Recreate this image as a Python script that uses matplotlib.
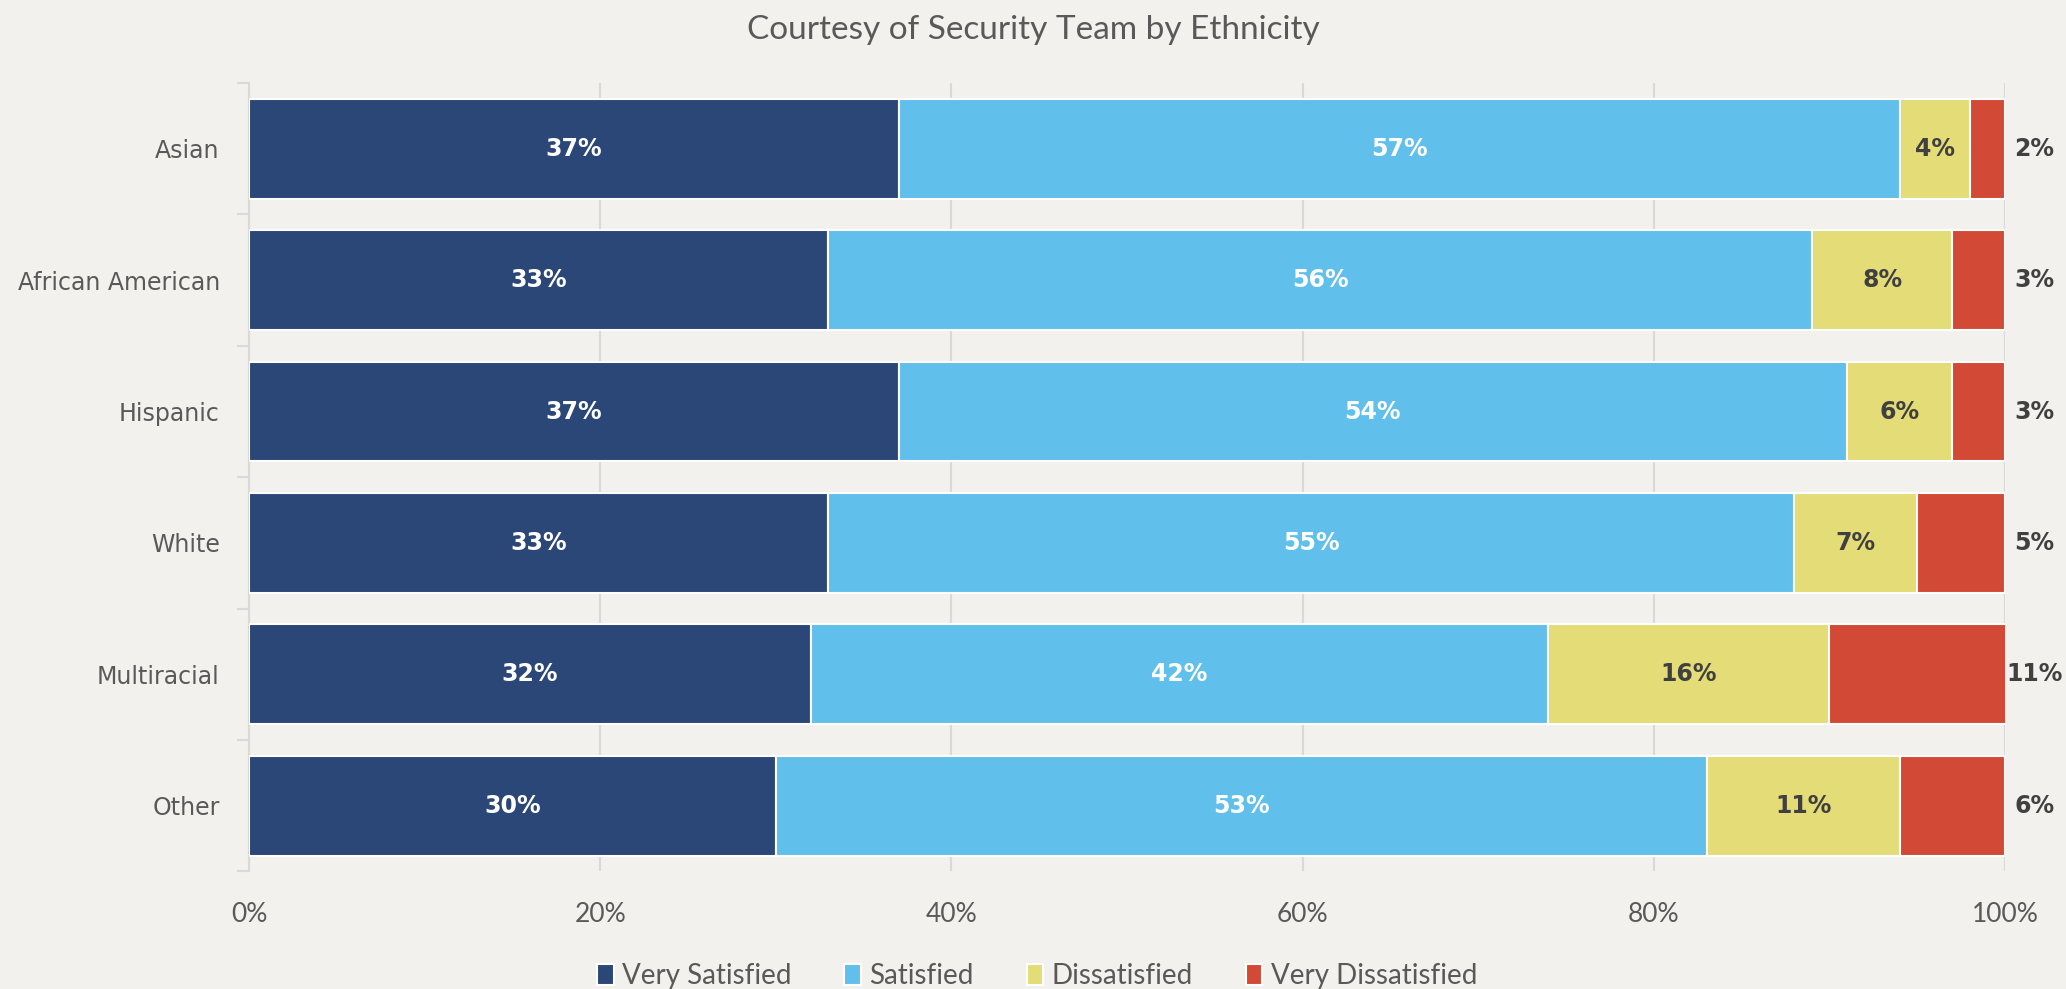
import matplotlib
matplotlib.use("Agg")
import matplotlib.pyplot as plt
from matplotlib.patches import Patch
import numpy as np

# Survey results (percent of respondents)
categories = ["Asian", "African American", "Hispanic", "White", "Multiracial", "Other"]
very_satisfied = [37, 33, 37, 33, 32, 30]
satisfied = [57, 56, 54, 55, 42, 53]
dissatisfied = [4, 8, 6, 7, 16, 11]
very_dissatisfied = [2, 3, 3, 5, 11, 6]
series_names = ["Very Satisfied", "Satisfied", "Dissatisfied", "Very Dissatisfied"]
x_ticks = [0, 20, 40, 60, 80, 100]
x_tick_labels = ["0%", "20%", "40%", "60%", "80%", "100%"]

colors = ["#2B4777", "#61BFEB", "#E3DC77", "#D24A35"]
label_colors = ["white", "white", "#404040", None]
bg = "#F2F1ED"
grid_c = "#D9D9D9"
text_c = "#595959"

fig = plt.figure(figsize=(20.66, 9.89), dpi=100, facecolor=bg)
ax = fig.add_axes([0.1205, 0.119, 0.85, 0.797], facecolor=bg)

series = [very_satisfied, satisfied, dissatisfied, very_dissatisfied]
y = np.arange(len(categories))
left = np.zeros(len(categories))
for vals, col, lc in zip(series, colors, label_colors):
    vals = np.array(vals, dtype=float)
    ax.barh(y, vals, left=left, height=0.76, color=col,
            edgecolor="white", linewidth=1.5, zorder=3)
    if lc is not None:
        for yi, (l, v) in enumerate(zip(left, vals)):
            ax.text(l + v / 2, yi, f"{int(v)}%", ha="center", va="center",
                    color=lc, fontsize=17, fontweight="bold",
                    family="DejaVu Sans", zorder=4)
    else:
        for yi, v in enumerate(vals):
            ax.annotate(f"{int(v)}%", xy=(100, yi), xytext=(21, 0),
                        textcoords="offset points", ha="center", va="center",
                        color="#404040", fontsize=17, fontweight="bold",
                        family="DejaVu Sans", annotation_clip=False)
    left = left + vals

ax.set_xlim(0, 100)
ax.set_ylim(len(categories) - 0.5, -0.5)

# x axis: gridlines only
ax.set_xticks(x_ticks)
ax.set_xticklabels(x_tick_labels, fontsize=19, color=text_c, family="Lato")
ax.tick_params(axis="x", length=0, pad=22)
ax.grid(axis="x", color=grid_c, linewidth=1.5, zorder=0)

# y axis: boundary ticks with labels centred on each band
ax.set_yticks(np.arange(len(categories) + 1) - 0.5)
ax.set_yticklabels([])
ax.tick_params(axis="y", which="major", length=9, width=1.5, color=grid_c)
ax.set_yticks(y, minor=True)
ax.set_yticklabels(categories, minor=True, fontsize=17, color=text_c,
                   family="DejaVu Sans")
ax.tick_params(axis="y", which="minor", length=0, pad=21)

for s in ["top", "right", "bottom"]:
    ax.spines[s].set_visible(False)
ax.spines["left"].set_color(grid_c)
ax.spines["left"].set_linewidth(1.5)

fig.text(0.5, 0.970, "Courtesy of Security Team by Ethnicity", ha="center",
         va="center", fontsize=24, color=text_c, family="Lato")

handles = [Patch(facecolor=c, edgecolor="white", linewidth=1.5) for c in colors]
fig.legend(handles, series_names, loc="center", bbox_to_anchor=(0.502, 0.013),
           ncol=4, frameon=False, labelcolor=text_c,
           handlelength=0.6, handleheight=0.8, handletextpad=0.3,
           columnspacing=1.9, prop={"family": "Lato", "size": 20})

fig.savefig("out.png", dpi=100, facecolor=bg)
